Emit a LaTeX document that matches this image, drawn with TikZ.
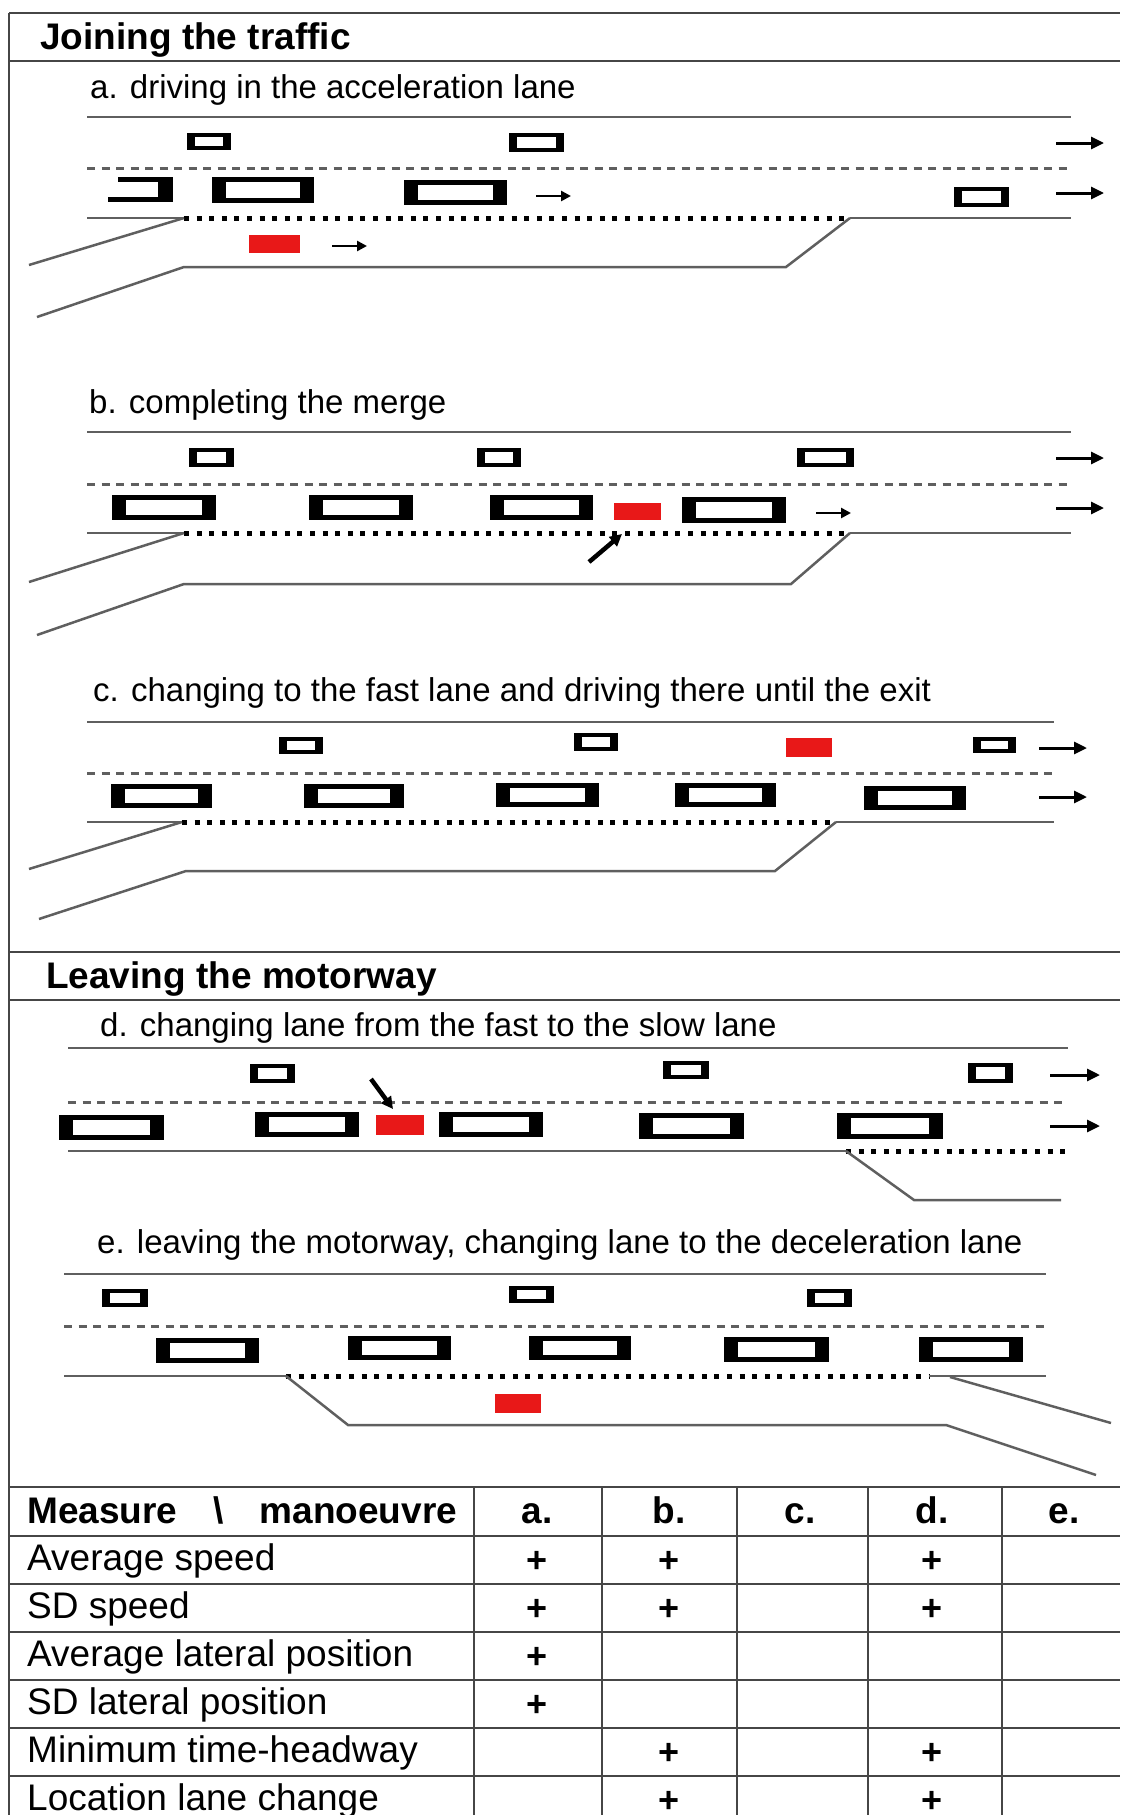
\documentclass[tikz,border=0pt]{standalone}
\usepackage{fontspec}
\setmainfont{Liberation Sans}
\usepackage{xcolor}
\usepackage{tikz}
\usetikzlibrary{arrows.meta}
\usetikzlibrary{calc}

\definecolor{roadgray}{RGB}{95,95,95}
\definecolor{framegray}{RGB}{70,70,70}
\definecolor{carred}{RGB}{232,24,24}

\begin{document}
\begin{tikzpicture}[x=1pt, y=-1pt,
    framerule/.style={draw=framegray, line width=2.5pt},
    roadline/.style={draw=roadgray, line width=2.5pt},
    lanedash/.style={draw=roadgray, line width=3pt, dash pattern=on 8pt off 6.5pt},
    accdots/.style={draw=black, line width=5pt, dash pattern=on 5pt off 7.6pt},
    dirarrow/.style={-{Triangle[length=13pt,width=12pt]}, line width=3pt},
    shortarrow/.style={-{Triangle[length=10pt,width=10pt]}, line width=2.5pt},
    slantarrow/.style={-{Triangle[length=12pt,width=12pt]}, line width=4.5pt},
    heading/.style={anchor=base west, inner sep=0pt, font=\fontsize{37}{44}\selectfont\bfseries},
    sublabel/.style={anchor=base west, inner sep=0pt, font=\fontsize{33}{40}\selectfont},
    celltext/.style={anchor=base west, inner sep=0pt, font=\fontsize{37}{44}\selectfont},
    cellhead/.style={anchor=base, inner sep=0pt, font=\fontsize{37}{44}\selectfont\bfseries},
    plussign/.style={inner sep=0pt, font=\fontsize{36}{40}\selectfont\bfseries}]

    \useasboundingbox (0,0) rectangle (1120,1815);

    \def\rowh{48}
    \def\tabtop{1536}

    % frame and section rules
    \draw [framerule] (9,13) -- (1120,13);
    \draw [framerule] (9,13) -- (9,1815);
    \foreach \y in {61, 952, 1000, 1487} {
      \draw [framerule] (9,\y) -- (1120,\y);
    }
    \node (jointitle) [heading] at (40,49) {Joining the traffic};
    \node (leavetitle) [heading] at (46,988) {Leaving the motorway};

    % ---- a. driving in the acceleration lane
    \node (capa) [sublabel] at (90,98) {a. driving in the acceleration lane};
    \draw [roadline] (87,117) -- (1071,117); % road edge
    \draw [lanedash] (87,168) -- (1071,168); % lane marking
    \draw [roadline] (87,218) -- (184,218);
    \draw [accdots] (184,218) -- (850,218);
    \draw [roadline] (850,218) -- (1071,218);
    \draw [roadline] (29,265) -- (184,218); % on-ramp
    \draw [roadline] (37,317) -- (184,267) -- (786,267) -- (850,218);
    \fill (118,177) rectangle (173,182); % car entering the picture
    \fill (158,177) rectangle (173,202);
    \fill (108,197) rectangle (173,202);
    \fill [carred] (249,235) rectangle (300,253);
    \draw [shortarrow] (332,246) -- (367,246);
    \draw [shortarrow] (536,196) -- (571,196);
    \draw [dirarrow] (1056,143) -- (1104,143);
    \draw [dirarrow] (1056,193) -- (1104,193);

    % ---- b. completing the merge
    \node (capb) [sublabel] at (89,413) {b. completing the merge};
    \draw [roadline] (87,432) -- (1071,432);
    \draw [lanedash] (87,484) -- (1071,484);
    \draw [roadline] (87,533) -- (184,533);
    \draw [accdots] (184,533) -- (850,533);
    \draw [roadline] (850,533) -- (1071,533);
    \draw [roadline] (29,582) -- (184,533);
    \draw [roadline] (37,635) -- (184,584) -- (791,584) -- (850,533);
    \fill [carred] (614,503) rectangle (661,520);
    \draw [slantarrow] (589,562) -- (622,534);
    \draw [shortarrow] (816,513) -- (851,513);
    \draw [dirarrow] (1056,458) -- (1104,458);
    \draw [dirarrow] (1056,508) -- (1104,508);

    % ---- c. changing to the fast lane
    \node (capc) [sublabel] at (93,701) {c. changing to the fast lane and driving there until the exit};
    \draw [roadline] (87,722) -- (1054,722);
    \draw [lanedash] (87,773) -- (1054,773);
    \draw [roadline] (87,822) -- (182,822);
    \draw [accdots] (182,822) -- (836,822);
    \draw [roadline] (836,822) -- (1054,822);
    \draw [roadline] (29,869) -- (182,822);
    \draw [roadline] (39,919) -- (186,871) -- (775,871) -- (836,822);
    \fill [carred] (786,738) rectangle (832,757);
    \draw [dirarrow] (1039,748) -- (1087,748);
    \draw [dirarrow] (1039,797) -- (1087,797);

    % ---- d. changing lane from the fast to the slow lane
    \node (capd) [sublabel] at (100,1036) {d. changing lane from the fast to the slow lane};
    \draw [roadline] (68,1048) -- (1068,1048);
    \draw [lanedash] (68,1102) -- (1068,1102);
    \draw [roadline] (68,1151) -- (846,1151);
    \draw [accdots] (846,1151) -- (1068,1151);
    \draw [roadline] (846,1151) -- (914,1200) -- (1061,1200); % off-ramp
    \fill [carred] (376,1115) rectangle (424,1135);
    \draw [slantarrow] (371,1079) -- (393,1109);
    \draw [dirarrow] (1050,1075) -- (1100,1075);
    \draw [dirarrow] (1050,1126) -- (1100,1126);

    % ---- e. leaving the motorway
    \node (cape) [sublabel] at (97,1253) {e. leaving the motorway, changing lane to the deceleration lane};
    \draw [roadline] (64,1274) -- (1046,1274);
    \draw [lanedash] (64,1326) -- (1046,1326);
    \draw [roadline] (64,1376) -- (286,1376);
    \draw [accdots] (286,1376) -- (929,1376);
    \draw [roadline] (929,1376) -- (1046,1376);
    \draw [roadline] (286,1376) -- (348,1425) -- (946,1425) -- (1096,1475);
    \draw [roadline] (950,1377) -- (1111,1423);
    \fill [carred] (495,1394) rectangle (541,1413);

    % small cars (fast lane)
    \foreach \xa/\ya/\xb/\yb in {187/133/231/150, 509/133/564/152, 954/187/1009/207,
      189/448/234/467, 477/448/521/467, 797/448/854/467,
      279/737/323/754, 574/733/618/751, 973/737/1016/753,
      250/1064/295/1083, 663/1061/709/1079, 968/1063/1013/1083,
      102/1289/148/1307, 509/1286/554/1303, 807/1289/852/1307} {
      \fill (\xa,\ya) rectangle (\xb,\yb);
      \fill [white] (\xa+8,\ya+4) rectangle (\xb-8,\yb-4);
    }
    % big cars (slow lane)
    \foreach \xa/\ya/\xb/\yb in {212/177/314/203, 404/180/507/205,
      112/495/216/520, 309/495/413/520, 490/495/593/520, 682/497/786/523,
      111/784/212/808, 304/784/404/808, 496/783/599/807, 675/783/776/807, 864/786/966/810,
      59/1115/164/1140, 255/1112/359/1137, 439/1112/543/1137, 639/1113/744/1139, 837/1113/943/1139,
      156/1338/259/1363, 348/1336/451/1360, 529/1336/631/1360, 724/1337/829/1362, 919/1337/1023/1362} {
      \fill (\xa,\ya) rectangle (\xb,\yb);
      \fill [white] (\xa+14,\ya+5) rectangle (\xb-14,\yb-5);
    }

    % ---- table
    \foreach \i in {0, ..., 5} {
      \draw [framerule] (9,{\tabtop+\rowh*\i}) -- (1120,{\tabtop+\rowh*\i});
    }
    \foreach \x in {474, 602, 737, 868, 1002} {
      \draw [framerule] (\x,1487) -- (\x,1815);
    }
    \node (measure) [cellhead, anchor=base west] at (27,1523)
      {\makebox[430pt][s]{Measure \textbackslash{} manoeuvre}};
    \foreach \c/\x in {a/537, b/669, c/800, d/932, e/1064} {
      \node (head\c) [cellhead] at (\x,1523) {\c.};
    }
    \foreach \t [count=\i] in {Average speed, SD speed, Average lateral position,
      SD lateral position, Minimum time-headway, Location lane change} {
      \node (row\i) [celltext] at (27,{\tabtop+\rowh*(\i-1)+34}) {\t};
    }
    \foreach \x/\r in {537/1, 537/2, 537/3, 537/4, 669/1, 669/2, 669/5, 669/6,
      932/1, 932/2, 932/5, 932/6} {
      \node (plus\x-\r) [plussign] at (\x,{\tabtop+\rowh*(\r-1)+26}) {+};
    }

  \end{tikzpicture}
\end{document}
